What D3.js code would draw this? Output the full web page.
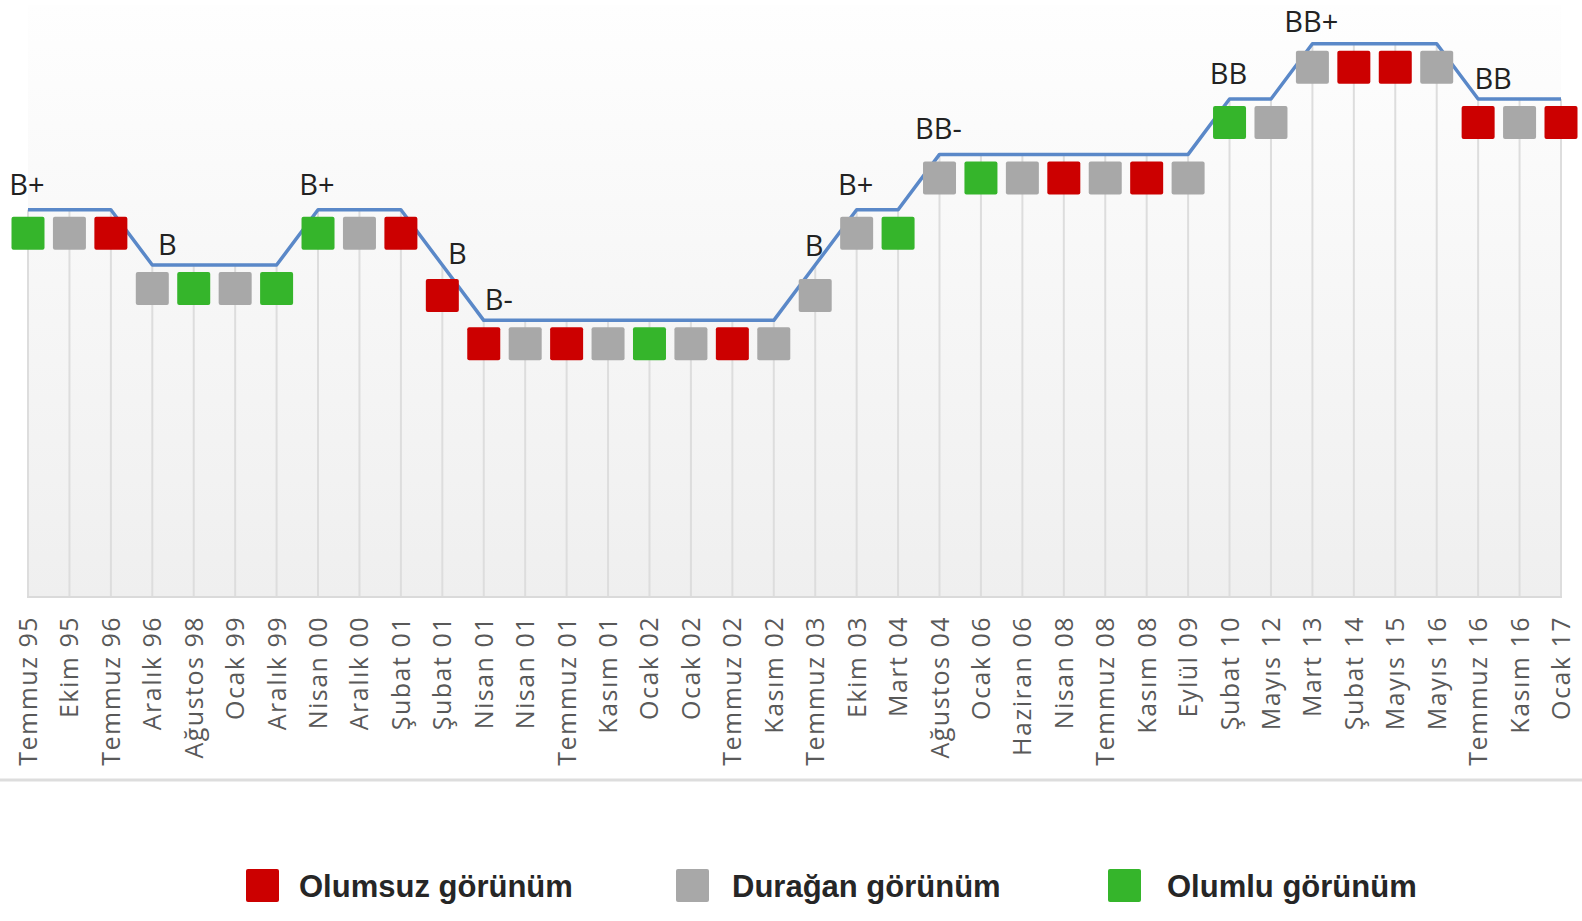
<!DOCTYPE html>
<html>
<head>
<meta charset="utf-8">
<script src="https://cdn.jsdelivr.net/npm/d3@7"></script>
<style>
  html, body { margin: 0; padding: 0; background: #fff; }
  svg { display: block; }
</style>
</head>
<body>
<div id="chart"></div>
<script>
// dates of each rating action
const dates = ["Temmuz 95","Ekim 95","Temmuz 96","Aralık 96","Ağustos 98","Ocak 99","Aralık 99","Nisan 00","Aralık 00","Şubat 01",
  "Şubat 01","Nisan 01","Nisan 01","Temmuz 01","Kasım 01","Ocak 02","Ocak 02","Temmuz 02","Kasım 02","Temmuz 03",
  "Ekim 03","Mart 04","Ağustos 04","Ocak 06","Haziran 06","Nisan 08","Temmuz 08","Kasım 08","Eylül 09","Şubat 10",
  "Mayıs 12","Mart 13","Şubat 14","Mayıs 15","Mayıs 16","Temmuz 16","Kasım 16","Ocak 17"];
const ratings = ["B+","B+","B+","B","B","B","B","B+","B+","B+",
  "B","B-","B-","B-","B-","B-","B-","B-","B-","B",
  "B+","B+","BB-","BB-","BB-","BB-","BB-","BB-","BB-","BB",
  "BB","BB+","BB+","BB+","BB+","BB","BB","BB"];
// outlook: N = olumsuz, D = durağan, P = olumlu
const outlooks = ["P","D","N","D","P","D","P","P","D","N",
  "N","N","D","N","D","P","D","N","D","D",
  "D","P","D","P","D","N","D","N","D","P",
  "D","D","N","N","D","N","D","N"];
const ratingScale = ["B-","B","B+","BB-","BB","BB+"];
const legendKeys = ["N","D","P"];
const legendNames = ["Olumsuz görünüm","Durağan görünüm","Olumlu görünüm"];

const W = 1582, H = 921;
const colors = {N: "#cc0000", D: "#a8a8a8", P: "#35b52b"};

const svg = d3.select("#chart").append("svg")
  .attr("width", W)
  .attr("height", H);

const x = d3.scalePoint()
  .domain(d3.range(dates.length))
  .range([28, 1561]);
const y = d3.scaleLinear()
  .domain([-5, 5.7])
  .range([597, 5]);

const lvl = i => ratingScale.indexOf(ratings[i]);

//Plot background gradient
const grad = svg.append("defs").append("linearGradient")
  .attr("id","bg").attr("x1",0).attr("x2",0).attr("y1",0).attr("y2",1);
grad.append("stop").attr("offset","0%").attr("stop-color","#fefefe");
grad.append("stop").attr("offset","100%").attr("stop-color","#efefef");

svg.append("rect")
  .attr("x", x(0))
  .attr("y", y.range()[1])
  .attr("width", x(dates.length-1) - x(0))
  .attr("height", y.range()[0] - y.range()[1])
  .attr("fill","url(#bg)");

//Drop lines from each point to the bottom
svg.append("g").selectAll("line")
  .data(d3.range(dates.length))
  .join("line")
  .attr("x1", d => x(d)).attr("x2", d => x(d))
  .attr("y1", y(-5)).attr("y2", d => y(lvl(d)))
  .attr("stroke","#dddddd")
  .attr("stroke-width",2);

svg.append("line")
  .attr("x1", x(0)-1).attr("x2", x(dates.length-1)+1)
  .attr("y1", y(-5)).attr("y2", y(-5))
  .attr("stroke","#dadada")
  .attr("stroke-width",2);

//Rating line
const line = d3.line()
  .x(d => x(d))
  .y(d => y(lvl(d)));
svg.append("path")
  .datum(d3.range(dates.length))
  .attr("d", line)
  .attr("fill","none")
  .attr("stroke","#5a88c8")
  .attr("stroke-width",3.5)
  .attr("stroke-linejoin","round");

//Outlook squares
const sq = 33;
const midSlope = i => i > 0 && i < dates.length-1 &&
  lvl(i-1) !== lvl(i) && lvl(i+1) !== lvl(i);
svg.append("g").selectAll("rect")
  .data(d3.range(dates.length))
  .join("rect")
  .attr("x", d => x(d) - sq/2)
  .attr("y", d => y(lvl(d)) + (midSlope(d) ? 14 : 7))
  .attr("width", sq)
  .attr("height", sq)
  .attr("rx", 2)
  .attr("fill", d => colors[outlooks[d]]);

//Rating labels at each change
const labelSize = 29;
const changes = d3.range(dates.length).filter(i => i === 0 || lvl(i) !== lvl(i-1));
svg.append("g").selectAll("text")
  .data(changes)
  .join("text")
  .attr("x", d => {
    if (d > 0 && lvl(d-1) > lvl(d)) return x(d) + 15;
    return x(d) - 1;
  })
  .attr("y", d => {
    let down = d > 0 && lvl(d-1) > lvl(d);
    let yy;
    if (midSlope(d)) yy = y(lvl(d)) + (down ? -1 : -9);
    else yy = y(lvl(d)) + (down ? -10 : -15);
    return Math.max(yy, labelSize * 1.1); // keep inside the top edge
  })
  .attr("text-anchor","middle")
  .attr("font-family","'Open Sans', sans-serif")
  .attr("font-size",labelSize)
  .attr("fill","#222")
  .text(d => ratings[d]);

//X axis labels
svg.append("g").selectAll("text")
  .data(d3.range(dates.length))
  .join("text")
  .attr("transform", d => `translate(${x(d)},616) rotate(-90)`)
  .attr("text-anchor","end")
  .attr("dy","0.36em")
  .attr("font-family","'Open Sans', sans-serif")
  .attr("font-size",25)
  .attr("letter-spacing",1.5)
  .attr("fill","#595959")
  .text(d => dates[d]);

//Separator
svg.append("line")
  .attr("x1",0).attr("x2",W)
  .attr("y1",780).attr("y2",780)
  .attr("stroke","#dddddd")
  .attr("stroke-width",3);

//Legend
const legendX = [246, 676, 1108];
const legendGap = [53, 56, 59];
const legend = svg.append("g").selectAll("g")
  .data(legendKeys)
  .join("g")
  .attr("transform", (d,i) => `translate(${legendX[i]},869)`);
legend.append("rect")
  .attr("width",33).attr("height",33)
  .attr("rx",2)
  .attr("fill", d => colors[d]);
legend.append("text")
  .attr("x",(d,i) => legendGap[i])
  .attr("y",28)
  .attr("font-family","'Liberation Sans', Arial, sans-serif")
  .attr("font-weight","bold")
  .attr("font-size",31)
  .attr("fill","#262626")
  .text((d,i) => legendNames[i]);
</script>
</body>
</html>
